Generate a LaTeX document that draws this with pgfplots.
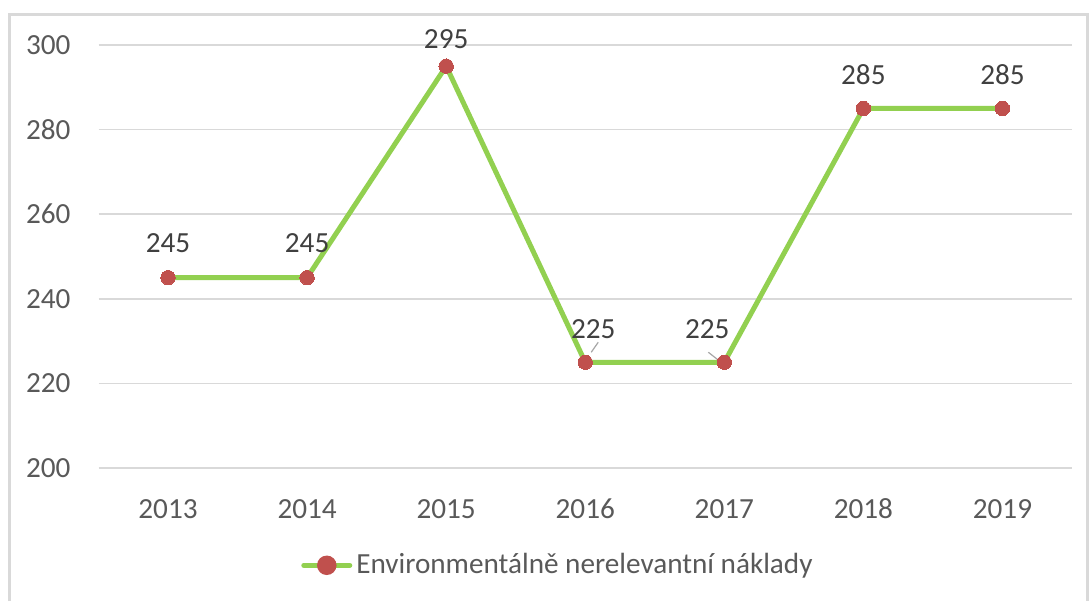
\documentclass[border=0pt]{standalone}
\usepackage{pgfplots}
\pgfplotsset{compat=1.18}
\usepackage{pgfplotstable}
\usepackage{fontspec}
\setmainfont{Carlito}
\definecolor{lgreen}{HTML}{92D050}
\definecolor{mred}{HTML}{C0504D}
\definecolor{gridc}{HTML}{D9D9D9}
\definecolor{tickc}{HTML}{595959}
\definecolor{labc}{HTML}{404040}
\pgfplotstableread{
x y dx dy
0 245 0 17.5
1 245 0 17.5
2 295 0 13.5
3 225 4 16.5
4 225 -8.5 16.5
5 285 0 17
6 285 0 17
}\datatable
\begin{document}
\begin{tikzpicture}
\useasboundingbox (0pt,0pt) rectangle (544.5pt,300.5pt);
\draw[gridc, line width=1.2pt] (4.75pt,0pt) -- (4.75pt,293.25pt) -- (543.75pt,293.25pt) -- (543.75pt,0pt);
\begin{axis}[
  at={(49.25pt,66.5pt)}, anchor=south west,
  scale only axis, width=486.75pt, height=211.5pt,
  xmin=-0.5, xmax=6.5, ymin=200, ymax=300,
  xtick={0,...,6}, xticklabels={2013,2014,2015,2016,2017,2018,2019},
  ytick={200,220,...,300},
  ymajorgrids, grid style={gridc, line width=0.8pt},
  axis line style={draw=none}, tick style={draw=none},
  /pgf/number format/assume math mode=true,
  ticklabel style={font=\fontsize{14.6}{17}\selectfont, text=tickc},
  yticklabel style={xshift=-10.5pt},
  xticklabel style={yshift=-15pt, text height=1.4ex, text depth=0.2ex},
  clip=false,
  legend style={at={(0.473,-0.23)}, anchor=center, draw=none, fill=none,
    font=\fontsize{14.6}{17}\selectfont, text=tickc,
    legend cell align=left},
  legend image code/.code={
    \draw[lgreen, line width=2.5pt, line cap=round] (0pt,0pt) -- (23pt,0pt);
    \fill[mred] (11.5pt,0pt) circle (3.6pt);
  },
]
\draw[gray!70, line width=0.6pt] (axis cs:3,225) ++(3pt,5pt) -- ++(3.5pt,5pt);
\draw[gray!70, line width=0.6pt] (axis cs:4,225) ++(-1pt,-0.5pt) -- ++(-7pt,5.5pt);
\addplot[lgreen, line width=2.5pt, mark=*, mark size=3.6pt,
  mark options={draw=mred, fill=mred, line width=0pt},
  nodes near coords, point meta=explicit,
  visualization depends on={\thisrow{dx} \as \dx},
  visualization depends on={\thisrow{dy} \as \dy},
  every node near coord/.append style={anchor=center, xshift=\dx pt, yshift=\dy pt,
    font=\fontsize{14.6}{17}\selectfont, text=labc, inner sep=0pt},
] table[x=x, y=y, meta=y] {\datatable};
\addlegendentry{Environmentálně nerelevantní náklady}
\end{axis}
\end{tikzpicture}
\end{document}
